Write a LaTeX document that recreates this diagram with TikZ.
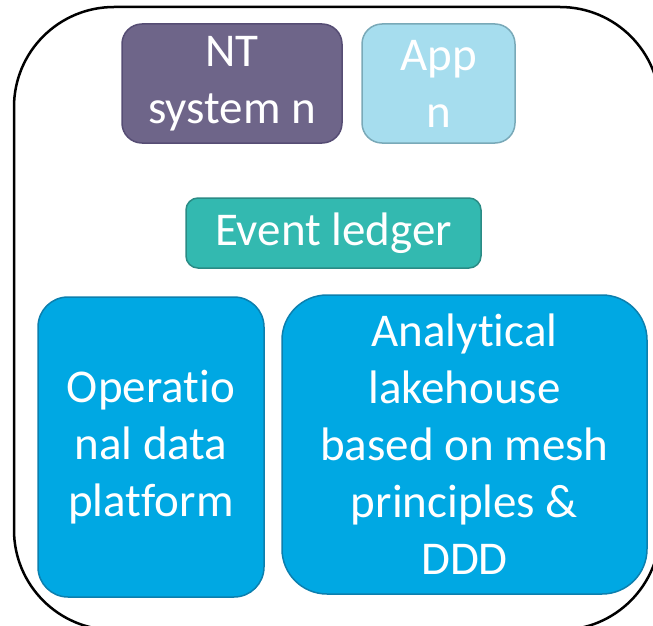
\documentclass[tikz,border=0pt]{standalone}
\usepackage{fontspec}
\setmainfont{Carlito}[Ligatures=NoCommon]
\usetikzlibrary{positioning}
\definecolor{ntfill}{RGB}{110,101,137}
\definecolor{ntdraw}{RGB}{86,77,116}
\definecolor{appfill}{RGB}{166,221,238}
\definecolor{appdraw}{RGB}{121,169,184}
\definecolor{ledgerfill}{RGB}{51,185,176}
\definecolor{ledgerdraw}{RGB}{42,139,133}
\definecolor{platfill}{RGB}{0,168,227}
\definecolor{platdraw}{RGB}{12,127,174}
\tikzset{blk/.style={draw, line width=1.5pt, inner sep=0pt, outer sep=0pt, align=center, text=white, font=\fontsize{47pt}{57pt}\selectfont}}
\tikzset{sys/.style={blk, fill=ntfill, draw=ntdraw, rounded corners=20pt, minimum width=220pt, minimum height=119pt}}
\tikzset{app/.style={blk, fill=appfill, draw=appdraw, rounded corners=20pt, minimum width=153pt, minimum height=119pt}}
\tikzset{ledger/.style={blk, fill=ledgerfill, draw=ledgerdraw, rounded corners=12pt, minimum width=295pt, minimum height=70pt}}
\tikzset{plat/.style={blk, fill=platfill, draw=platdraw}}
\begin{document}
\begin{tikzpicture}[x=1pt, y=-1pt]
\useasboundingbox (0,0) rectangle (653,626);
\clip (0,0) rectangle (653,626);
\draw[line width=2.5pt, rounded corners=100pt] (14,7) rectangle (660,630);

\node[sys] (nt) at (232,83.5) {NT\\system n};
\node[app] (appn) [right = 20pt of nt] {App\\n};
\node[ledger] (ledger) at (333.5,233) {Event ledger};

\node[plat, rounded corners=30pt, minimum width=226pt, minimum height=300pt] (ops) at (151,447) {Operatio\\nal data\\platform};
\node[plat, rounded corners=45pt, minimum width=365pt, minimum height=299pt] (lake) at (464.5,444.5) {Analytical\\lakehouse\\based on mesh\\principles \&\\DDD};
\end{tikzpicture}
\end{document}
